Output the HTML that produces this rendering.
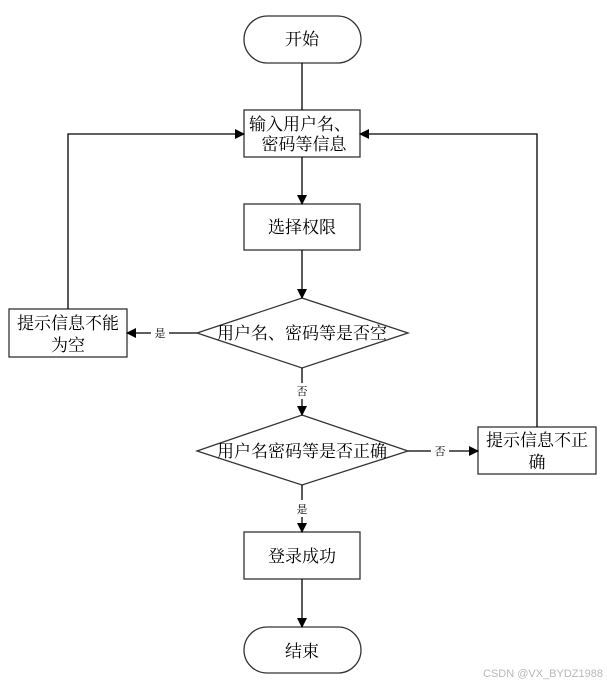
<!DOCTYPE html>
<html><head><meta charset="utf-8"><style>
html,body{margin:0;padding:0;background:#fff;}
svg{display:block;}
text{font-family:"Liberation Serif","Noto Serif CJK SC","Noto Sans CJK SC",serif;fill:#000;}
</style></head><body>
<svg width="607" height="683" viewBox="0 0 607 683" xmlns="http://www.w3.org/2000/svg">
<defs><marker id="a" markerWidth="10" markerHeight="10" refX="9" refY="5" orient="auto" markerUnits="userSpaceOnUse"><path d="M0,0 L10,5 L0,10 z" fill="#000"/></marker></defs>
<g fill="none" stroke="#333" stroke-width="1.3">
<rect x="244" y="16" width="117" height="47" rx="23.5"/>
<rect x="244" y="110" width="116" height="47"/>
<rect x="244" y="204" width="116" height="46"/>
<polygon points="302,298 408,333 302,368 197,333"/>
<polygon points="302,415 408,451 302,485 197,451"/>
<rect x="9" y="309" width="118" height="48"/>
<rect x="478" y="427" width="118" height="47"/>
<rect x="244" y="532" width="116" height="47"/>
<rect x="244" y="627" width="117" height="46" rx="23"/>
</g>
<g fill="none" stroke="#000" stroke-width="1.3">
<line x1="302" y1="63" x2="302" y2="110"/>
<line x1="302" y1="157" x2="302" y2="204" marker-end="url(#a)"/>
<line x1="302" y1="250" x2="302" y2="298" marker-end="url(#a)"/>
<line x1="302" y1="368" x2="302" y2="415" marker-end="url(#a)"/>
<line x1="302" y1="485" x2="302" y2="532" marker-end="url(#a)"/>
<line x1="302" y1="579" x2="302" y2="627" marker-end="url(#a)"/>
<line x1="197" y1="333" x2="127" y2="333" marker-end="url(#a)"/>
<line x1="408" y1="451" x2="478" y2="451" marker-end="url(#a)"/>
<polyline points="68,309 68,134 244,134" marker-end="url(#a)"/>
<polyline points="537,427 537,134 360,134" marker-end="url(#a)"/>
</g>
<g fill="#fff">
<rect x="151" y="325" width="18" height="16"/>
<rect x="294" y="383" width="16" height="16"/>
<rect x="431" y="443" width="18" height="16"/>
<rect x="294" y="500" width="16" height="17"/>
</g>
<g font-size="17" text-anchor="middle">
<text x="302" y="45">开始</text>
<text x="300" y="130">输入用户名、</text>
<text x="304" y="150">密码等信息</text>
<text x="302" y="233">选择权限</text>
<text x="302" y="339">用户名、密码等是否空</text>
<text x="302" y="457">用户名密码等是否正确</text>
<text x="68" y="329">提示信息不能</text>
<text x="68" y="351">为空</text>
<text x="537" y="446">提示信息不正</text>
<text x="537" y="468">确</text>
<text x="302" y="562">登录成功</text>
<text x="302" y="657">结束</text>
</g>
<g font-size="11" text-anchor="middle">
<text x="160" y="337">是</text>
<text x="302" y="395">否</text>
<text x="440" y="455">否</text>
<text x="302" y="513">是</text>
</g>
<text x="603" y="677" font-size="11" text-anchor="end" style="font-family:'Liberation Sans',sans-serif;fill:#b8b8b8">CSDN @VX_BYDZ1988</text>
</svg>
</body></html>
